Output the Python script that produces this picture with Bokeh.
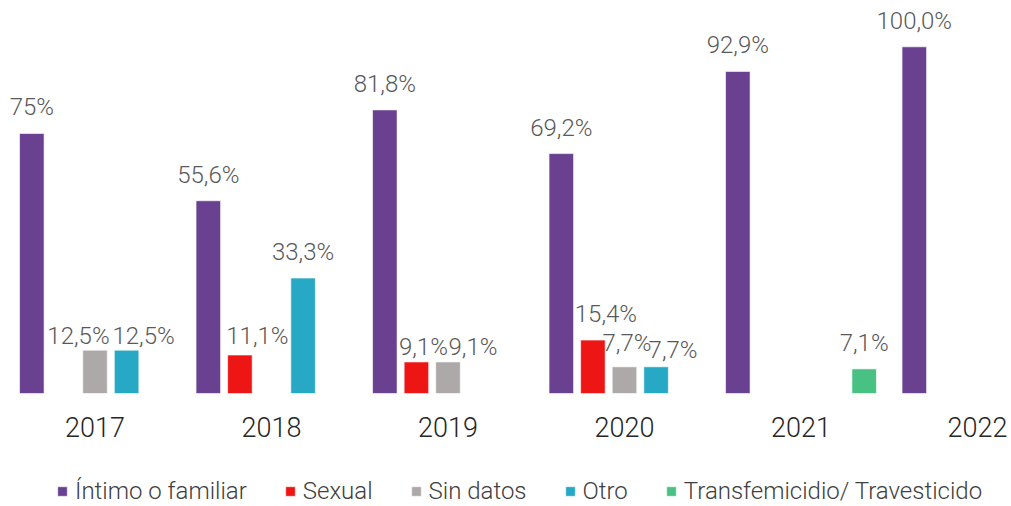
from bokeh.plotting import figure
from bokeh.models import ColumnDataSource, Range1d, Legend, LegendItem
from bokeh.transform import dodge
from bokeh.core.properties import value
from bokeh.embed import file_html
from bokeh.resources import INLINE

# ---- data ----
years = ["2017", "2018", "2019", "2020", "2021", "2022"]
series_names = ["Íntimo o familiar", "Sexual", "Sin datos", "Otro", "Transfemicidio/ Travesticido"]
intimo = [75.0, 55.6, 81.8, 69.2, 92.9, 100.0]
sexual = [0, 11.1, 9.1, 15.4, 0, 0]
sin_datos = [12.5, 0, 9.1, 7.7, 0, 0]
otro = [12.5, 33.3, 0, 7.7, 0, 0]
trans = [0, 0, 0, 0, 7.1, 0]
intimo_labels = ["75%", "55,6%", "81,8%", "69,2%", "92,9%", "100,0%"]
sexual_labels = ["", "11,1%", "9,1%", "15,4%", "", ""]
sin_datos_labels = ["12,5%", "", "9,1%", "7,7%", "", ""]
otro_labels = ["12,5%", "33,3%", "", "7,7%", "", ""]
trans_labels = ["", "", "", "", "7,1%", ""]

# ---- style ----
colors = ["#6A4190", "#EE1515", "#ADA9A8", "#27A8C4", "#49C183"]
# label nudges (px): horizontal shift, extra downward shift
label_dx = [
    [0, 0, 0, 0, 0, 0],
    [0, 17.5, 7, 13, 0, 0],
    [-16.5, 0, 25, 2.5, 0, 0],
    [17, 0, 0, 17, 0, 0],
    [0, 0, 0, 0, 0, 0],
]
label_dy = [
    [0, 0, 0, 0, 0, 0],
    [0, 7, 11, 0, 0, 0],
    [12, 0, 11, 2, 0, 0],
    [12, 0, 0, 9, 0, 0],
    [0, 0, 0, 0, 0, 0],
]
GAP = 26
SLOT = 0.179
BAR_W = 0.139
FONT = "Roboto Light, Roboto"
PX_GROUP = 176.5
PX_PCT = 3.467
BASE_Y = 393
X0 = 94.5

values = [intimo, sexual, sin_datos, otro, trans]
labels = [intimo_labels, sexual_labels, sin_datos_labels, otro_labels, trans_labels]

W, H = 1011, 504
xs = -X0 / PX_GROUP
ys = -(H - BASE_Y) / PX_PCT
p = figure(width=W, height=H, output_backend="svg", toolbar_location=None,
           x_axis_location=None, y_axis_location=None, min_border=0,
           x_range=Range1d(xs, xs + W / PX_GROUP),
           y_range=Range1d(ys, ys + H / PX_PCT))
p.grid.visible = False
p.outline_line_color = None

items = []
for j in range(5):
    idx = list(range(len(years)))
    src = ColumnDataSource(dict(idx=idx, v=values[j]))
    off = (j - 2) * SLOT
    r = p.vbar(x=dodge("idx", off), top="v", bottom=0, width=BAR_W, source=src,
               fill_color=colors[j], line_color="white", line_width=0.6)
    items.append(LegendItem(label=series_names[j], renderers=[r]))
    keep = [i for i in idx if labels[j][i]]
    lsrc = ColumnDataSource(dict(
        idx=keep,
        v=[values[j][i] for i in keep],
        t=[labels[j][i] for i in keep],
        dx=[label_dx[j][i] for i in keep],
        dy=[-GAP + label_dy[j][i] for i in keep],
    ))
    p.text(x=dodge("idx", off), y="v", text="t", x_offset="dx", y_offset="dy", source=lsrc,
           text_align="center", text_baseline="alphabetic",
           text_font=value(FONT), text_font_size="24px", text_color="#595959")

ysrc = ColumnDataSource(dict(idx=list(range(len(years))), y=[0] * len(years), t=years))
p.text(x="idx", y="y", text="t", source=ysrc, y_offset=33,
       text_align="center", text_baseline="alphabetic",
       text_font=value(FONT), text_font_size="27px", text_color="#262626")

legend = Legend(items=items, orientation="horizontal", location=(56, -1),
                glyph_width=12, glyph_height=12, label_height=12,
                label_standoff=7, spacing=37, padding=0, margin=0,
                border_line_color=None, background_fill_alpha=0,
                label_text_font=FONT, label_text_font_size="24px",
                label_text_color="#404040", label_text_baseline="middle")
p.add_layout(legend, "center")

open("out.html", "w").write(file_html(p, INLINE))
